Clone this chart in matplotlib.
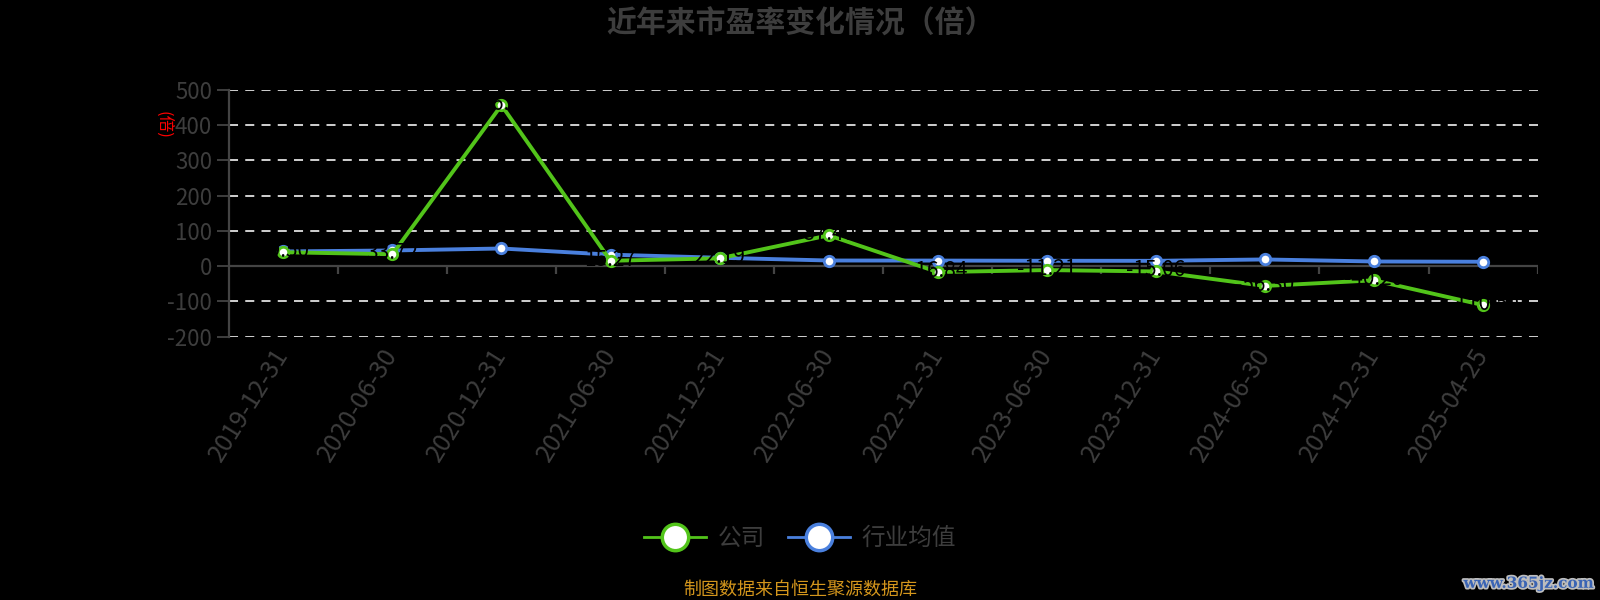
import matplotlib
matplotlib.use("Agg")
import matplotlib.pyplot as plt
from matplotlib.lines import Line2D
import matplotlib.patheffects as pe

plt.rcParams['font.family'] = ['Noto Sans CJK SC', 'DejaVu Sans']

categories = ["2019-12-31", "2020-06-30", "2020-12-31", "2021-06-30", "2021-12-31", "2022-06-30",
              "2022-12-31", "2023-06-30", "2023-12-31", "2024-06-30", "2024-12-31", "2025-04-25"]
company = [39.5, 33.72, 456.8, 15.27, 22.19, 87.4, -16.84, -11.21, -15.06, -56.3, -40.2, -110.5]
industry = [41.7, 44.5, 50.1, 32.6, 23.8, 16.0, 15.8, 15.2, 15.1, 19.0, 13.2, 12.5]
yticks = [-200, -100, 0, 100, 200, 300, 400, 500]

title = "近年来市盈率变化情况（倍）"
ylabel = "(倍)"
legend_labels = ["公司", "行业均值"]
footer = "制图数据来自恒生聚源数据库"
watermark = "www.365jz.com"

green = "#52c41a"
blue = "#4a80de"
grey = "#3d3d3d"
axis_grey = "#444444"

fig = plt.figure(figsize=(16, 6), dpi=100, facecolor="black")
ax = fig.add_axes([0.143, 0.439, 0.818, 0.411], facecolor="black")

x = list(range(len(categories)))
ax.plot(x, company, color=green, lw=2.8, marker="o", ms=7.5, mfc="white", mec=green, mew=2, zorder=4)
ax.plot(x, industry, color=blue, lw=2.8, marker="o", ms=7.5, mfc="white", mec=blue, mew=2, zorder=3)

for xi, v in zip(x, company):
    ax.text(xi, v + 3, f"{v:.2f}", color="black", fontsize=15, ha="center", va="center", zorder=5)

ax.set_xlim(-0.5, len(categories) - 0.5)
ax.set_ylim(-200, 500)
ax.set_yticks(yticks)
ax.set_yticklabels([str(t) for t in yticks], color=grey, fontsize=16)
for t in yticks:
    if t != 0:
        ax.axhline(t, color="#e0e0e0", lw=1.3, ls=(0, (5, 4)), zorder=1)
ax.axhline(0, color=axis_grey, lw=1.6, zorder=2)
# category boundary tick marks on the zero line
ax.vlines([i + 0.5 for i in range(len(categories))], -22, 0, color=axis_grey, lw=1.6, zorder=2)

ax.set_xticks(x)
ax.set_xticklabels(categories, rotation=58, ha="right", va="center",
                   rotation_mode="anchor", color=grey, fontsize=18)
ax.tick_params(axis="x", length=0, pad=10)
ax.tick_params(axis="y", length=9, color=axis_grey, width=1.3, pad=3)

for s in ["top", "right", "bottom"]:
    ax.spines[s].set_visible(False)
ax.spines["left"].set_color(axis_grey)
ax.spines["left"].set_linewidth(1.6)

ax.text(-0.05, 0.86, ylabel, transform=ax.transAxes, rotation=-90, color="red",
        fontsize=12, ha="center", va="center")

fig.text(0.5, 0.96, title, color=grey, fontsize=21.5, fontweight="bold", ha="center", va="center")

handles = [Line2D([0], [0], color=green, lw=2, marker="o", ms=19, mfc="white", mec=green, mew=2.5),
           Line2D([0], [0], color=blue, lw=2, marker="o", ms=19, mfc="white", mec=blue, mew=2.5)]
fig.legend(handles, legend_labels, loc="center", bbox_to_anchor=(0.5, 0.102), ncol=2, frameon=False,
           fontsize=17, labelcolor=grey, handlelength=2.6, columnspacing=1.0, handletextpad=0.5)

fig.text(0.5, 0.018, footer, color="#d4961c", fontsize=13, ha="center", va="center")
fig.text(0.996, 0.027, watermark, color="#3a64b4", fontsize=11, fontweight="bold", family="DejaVu Serif",
         ha="right", va="center", path_effects=[pe.withStroke(linewidth=2.5, foreground="#bdbdbd")])

fig.savefig("out.png", dpi=100, facecolor="black")
